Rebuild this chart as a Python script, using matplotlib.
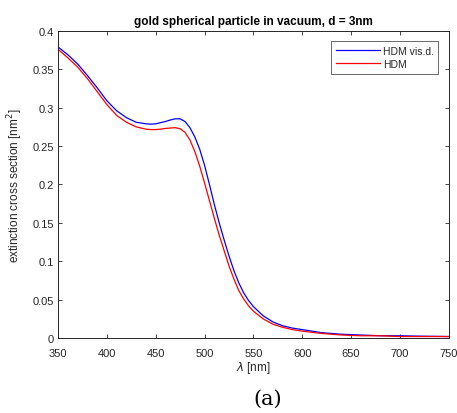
import matplotlib
matplotlib.use("Agg")
import matplotlib.pyplot as plt

# wavelength [nm]
wl = [350, 360, 370, 380, 390, 400, 410, 420, 430, 440, 445, 450, 455, 460,
      465, 470, 475, 480, 485, 490, 495, 500, 505, 510, 515, 520, 525, 530,
      535, 540, 545, 550, 560, 570, 580, 590, 600, 620, 640, 660, 680, 700,
      720, 750]

# HDM with viscous damping
hdm_visd = [0.379, 0.369, 0.357, 0.342, 0.326, 0.309, 0.296, 0.287, 0.281, 0.279,
            0.2785, 0.279, 0.2805, 0.282, 0.284, 0.2855, 0.2855, 0.282, 0.274, 0.262,
            0.246, 0.225, 0.200, 0.174, 0.150, 0.128, 0.107, 0.088, 0.072, 0.059,
            0.049, 0.041, 0.029, 0.021, 0.016, 0.013, 0.011, 0.007, 0.005, 0.004,
            0.003, 0.003, 0.0025, 0.002]

# plain HDM
hdm = [0.376, 0.365, 0.353, 0.338, 0.321, 0.304, 0.290, 0.281, 0.275, 0.272,
       0.2715, 0.2715, 0.272, 0.273, 0.2735, 0.274, 0.2725, 0.268, 0.258, 0.243,
       0.224, 0.202, 0.179, 0.156, 0.134, 0.114, 0.094, 0.077, 0.062, 0.051,
       0.042, 0.035, 0.025, 0.018, 0.014, 0.011, 0.009, 0.006, 0.004, 0.003,
       0.003, 0.002, 0.002, 0.002]

xticks = [350, 400, 450, 500, 550, 600, 650, 700, 750]
yticks = [0, 0.05, 0.1, 0.15, 0.2, 0.25, 0.3, 0.35, 0.4]
ytick_labels = ["0", "0.05", "0.1", "0.15", "0.2", "0.25", "0.3", "0.35", "0.4"]

plt.rcParams["font.family"] = ["Liberation Sans", "DejaVu Sans"]
axcol = "#262626"

fig = plt.figure(figsize=(4.57, 4.14), dpi=100)
ax = fig.add_axes([0.127, 0.181, 0.855, 0.742])

ax.plot(wl, hdm_visd, color="#0000ff", lw=0.9, label="HDM vis.d.")
ax.plot(wl, hdm, color="#ff0000", lw=0.9, label="HDM")

ax.set_xlim(350, 750)
ax.set_ylim(0, 0.4)
ax.set_xticks(xticks)
ax.set_xticklabels([str(t) for t in xticks])
ax.set_yticks(yticks)
ax.set_yticklabels(ytick_labels)
ax.tick_params(direction="in", length=3, width=0.6, colors=axcol,
               labelsize=8, top=True, right=True)
ax.tick_params(axis="x", pad=7)
ax.tick_params(axis="y", pad=3)
for s in ax.spines.values():
    s.set_color(axcol)
    s.set_linewidth(0.7)

ax.set_title("gold spherical particle in vacuum, d = 3nm", fontsize=8.5,
             fontweight="bold", color="black", pad=5)
ax.set_xlabel(r"$\lambda$ [nm]", fontsize=8.5, color=axcol, labelpad=1)
ax.set_ylabel("extinction cross section [nm$^2$]", fontsize=8.5, color=axcol,
              labelpad=5)

leg = ax.legend(loc="upper right", fontsize=7.5, frameon=True, fancybox=False,
                handlelength=4.2, borderpad=0.45, labelspacing=0.3,
                handletextpad=0.3, borderaxespad=1.0)
leg.get_frame().set_edgecolor(axcol)
leg.get_frame().set_linewidth(0.6)
for t in leg.get_texts():
    t.set_color(axcol)

fig.text(0.585, 0.035, "(a)", fontsize=15, family="DejaVu Serif",
         ha="center", va="center")

fig.savefig("out.png", dpi=100)
